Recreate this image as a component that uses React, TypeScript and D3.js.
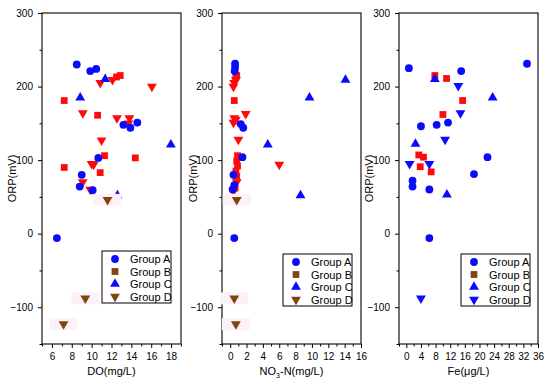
import React, { useRef, useEffect } from 'react';
import * as d3 from 'd3';

// ORP vs DO
const doGroupA = [[8.5, 230], [9.86, 221], [10.46, 224], [13.2, 148], [13.9, 144], [14.6, 151], [10.67, 103], [9.0, 80], [8.8, 64], [10.1, 59], [6.5, -6]];
const doGroupB = [[12.5, 213], [12.88, 215], [7.24, 181], [10.6, 161], [11.3, 106], [14.4, 103], [7.24, 90], [10.86, 83]];
const doGroupC = [[11.37, 210], [8.85, 185], [17.98, 121], [12.6, 52]];
const doGroupD = [[10.87, 205], [12.1, 209], [16.07, 200], [9.11, 164], [12.55, 157], [13.8, 157], [13.7, 150], [11.0, 127], [10.0, 95], [10.2, 94], [9.1, 70], [9.86, 60]];
const doGroupDLow = [[11.6, 46], [9.36, -88], [7.17, -123]];

// ORP vs NO3-N
const no3GroupA = [[0.6, 231], [0.6, 226], [0.55, 221], [1.3, 149], [1.6, 144], [1.5, 104], [0.4, 80], [0.5, 66], [0.3, 60], [0.5, -6]];
const no3GroupB = [[0.8, 215], [0.7, 213], [0.5, 181], [0.9, 106], [0.8, 99], [0.9, 92], [0.7, 85], [0.8, 78], [0.6, 62]];
const no3GroupC = [[14.1, 209], [9.7, 185], [4.6, 121], [8.6, 52]];
const no3GroupD = [[0.7, 209], [0.5, 205], [0.4, 200], [1.9, 163], [0.5, 157], [0.7, 155], [0.4, 151], [1.0, 128], [6.0, 94], [0.8, 70], [0.4, 58]];
const no3GroupDLow = [[0.8, 46], [0.5, -88], [0.7, -123]];

// ORP vs Fe
const feGroupA = [[0.7, 225], [15.0, 221], [33.0, 231], [4.0, 146], [8.3, 148], [11.4, 151], [22.2, 104], [18.5, 81], [1.7, 72], [1.7, 64], [6.3, 60], [6.3, -6]];
const feGroupB = [[7.8, 215], [11.0, 211], [15.4, 181], [10.0, 162], [3.4, 107], [4.7, 104], [3.8, 91], [6.8, 84]];
const feGroupC = [[7.8, 210], [23.6, 185], [2.5, 122], [11.1, 53]];
const feGroupD = [[14.2, 201], [14.8, 164], [10.6, 128], [0.9, 95], [6.3, 95], [4.0, -88]];

const legendLabels = ['Group A', 'Group B', 'Group C', 'Group D'];
const yTicks = [-100, 0, 100, 200, 300];
const yMinor = [-150, -50, 50, 150, 250];

const BLUE = '#0a0aff';
const RED = '#ff0a0a';
const BROWN = '#80440c';
const FONT = 'Liberation Sans, Arial, sans-serif';

const panels = [
  {
    left: 42, right: 181, xDomain: [5, 19], xTicks: [6, 8, 10, 12, 14, 16, 18], xMinor: [5, 7, 9, 11, 13, 15, 17, 19],
    title: 'DO(mg/L)', sub: false, labelX: 12, legend: [102, 251],
    series: [
      { data: doGroupB, shape: 'square', color: RED },
      { data: doGroupD, shape: 'down', color: RED },
      { data: doGroupA, shape: 'circle', color: BLUE },
      { data: doGroupC, shape: 'up', color: BLUE },
      { data: doGroupDLow, shape: 'down', color: BROWN, patch: true },
    ],
    legendColors: [BLUE, BROWN, BLUE, BROWN],
  },
  {
    left: 222, right: 361, xDomain: [-1, 16], xTicks: [0, 2, 4, 6, 8, 10, 12, 14, 16], xMinor: [-1, 1, 3, 5, 7, 9, 11, 13, 15],
    title: 'NO3-N(mg/L)', sub: true, labelX: 193, legend: [283, 254],
    series: [
      { data: no3GroupB, shape: 'square', color: RED },
      { data: no3GroupD, shape: 'down', color: RED },
      { data: no3GroupA, shape: 'circle', color: BLUE },
      { data: no3GroupC, shape: 'up', color: BLUE },
      { data: no3GroupDLow, shape: 'down', color: BROWN, patch: true },
    ],
    legendColors: [BLUE, BROWN, BLUE, BROWN],
  },
  {
    left: 399, right: 538, xDomain: [-2, 36], xTicks: [0, 4, 8, 12, 16, 20, 24, 28, 32, 36], xMinor: [-2, 2, 6, 10, 14, 18, 22, 26, 30, 34],
    title: 'Fe(μg/L)', sub: false, labelX: 369, legend: [461, 254],
    series: [
      { data: feGroupA, shape: 'circle', color: BLUE },
      { data: feGroupB, shape: 'square', color: RED },
      { data: feGroupC, shape: 'up', color: BLUE },
      { data: feGroupD, shape: 'down', color: BLUE },
    ],
    legendColors: [BLUE, BROWN, BLUE, BLUE],
  },
];

const shapePath = (shape: string) => {
  if (shape === 'circle') return d3.symbol(d3.symbolCircle, 48)();
  if (shape === 'square') return d3.symbol(d3.symbolSquare, 46)();
  return d3.symbol(d3.symbolTriangle, 42)();
};

export default function App() {
  const svgRef = useRef(null);

  useEffect(() => {
    const svg = d3.select(svgRef.current);
    svg.selectAll('*').remove();
    const top = 13;
    const bottom = 344;

    const y = d3.scaleLinear().domain([-150, 300]).range([bottom, top]);

    panels.forEach(p => {
      const g = svg.append('g');
      const x = d3.scaleLinear().domain(p.xDomain).range([p.left, p.right]);

      // frame
      g.append('rect')
        .attr('x', p.left).attr('y', top)
        .attr('width', p.right - p.left).attr('height', bottom - top)
        .attr('fill', 'none').attr('stroke', 'black').attr('stroke-width', 1.1);

      // y axis, major + minor
      g.append('g')
        .attr('transform', `translate(${p.left},0)`)
        .call(d3.axisLeft(y).tickValues(yTicks).tickSize(4).tickSizeOuter(0).tickPadding(5))
        .call(a => a.select('.domain').remove())
        .call(a => a.selectAll('.tick text').attr('font-size', 10).attr('font-family', FONT).attr('fill', 'black'));
      g.append('g')
        .attr('transform', `translate(${p.left},0)`)
        .call(d3.axisLeft(y).tickValues(yMinor).tickSize(2.5).tickFormat(() => ''))
        .call(a => a.select('.domain').remove());

      // x axis, major + minor
      g.append('g')
        .attr('transform', `translate(0,${bottom})`)
        .call(d3.axisBottom(x).tickValues(p.xTicks).tickSize(4).tickSizeOuter(0).tickPadding(5))
        .call(a => a.select('.domain').remove())
        .call(a => a.selectAll('.tick text').attr('font-size', 10).attr('font-family', FONT).attr('fill', 'black'));
      g.append('g')
        .attr('transform', `translate(0,${bottom})`)
        .call(d3.axisBottom(x).tickValues(p.xMinor).tickSize(2.5).tickFormat(() => ''))
        .call(a => a.select('.domain').remove());

      // axis titles
      const xt = g.append('text')
        .attr('x', (p.left + p.right) / 2).attr('y', 375)
        .attr('text-anchor', 'middle')
        .attr('font-size', 11).attr('font-family', FONT);
      if (p.sub) {
        xt.append('tspan').text('NO');
        xt.append('tspan').attr('font-size', 7).attr('dy', 3).text('3');
        xt.append('tspan').attr('dy', -3).text('-N(mg/L)');
      } else {
        xt.text(p.title);
      }

      g.append('text')
        .attr('transform', `translate(${p.labelX + 4},${(top + bottom) / 2}) rotate(-90)`)
        .attr('text-anchor', 'middle')
        .attr('font-size', 11).attr('font-family', FONT)
        .text('ORP(mV)');

      // points
      p.series.forEach(s => {
        if (s.patch) {
          g.append('g').selectAll('rect')
            .data(s.data)
            .join('rect')
            .attr('x', d => x(d[0]) - 14).attr('y', d => y(d[1]) - 6)
            .attr('width', 28).attr('height', 12)
            .attr('fill', '#fdf1f8');
        }
        g.append('g').selectAll('path')
          .data(s.data)
          .join('path')
          .attr('d', shapePath(s.shape))
          .attr('transform', d => `translate(${x(d[0])},${y(d[1])})${s.shape === 'down' ? ' rotate(180)' : ''}`)
          .attr('fill', s.color);
      });

      // legend
      const [lx, ly] = p.legend;
      const lg = g.append('g').attr('transform', `translate(${lx},${ly})`);
      lg.append('rect')
        .attr('width', 69).attr('height', 52)
        .attr('fill', 'white').attr('stroke', 'black').attr('stroke-width', 1);
      const shapes = ['circle', 'square', 'up', 'down'];
      legendLabels.forEach((lab, i) => {
        const cy = 8 + i * 12.5;
        lg.append('path')
          .attr('d', shapePath(shapes[i]))
          .attr('transform', `translate(13,${cy})${shapes[i] === 'down' ? ' rotate(180)' : ''}`)
          .attr('fill', p.legendColors[i]);
        lg.append('text')
          .attr('x', 28).attr('y', cy + 4)
          .attr('font-size', 11).attr('font-family', FONT)
          .text(lab);
      });
    });
  }, []);

  return <svg ref={svgRef} width={550} height={382} style={{ position: 'absolute', left: 0, top: 0, background: 'white' }} />;
}
